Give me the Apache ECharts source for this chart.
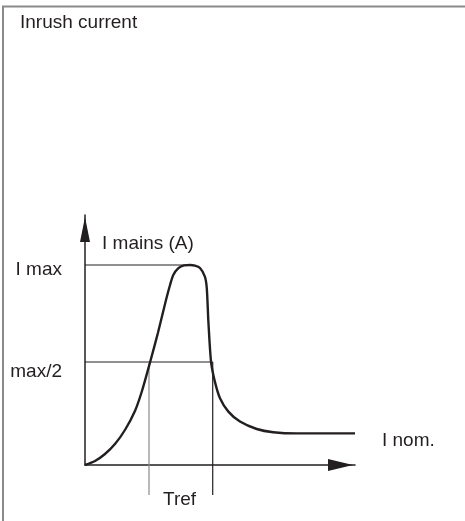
<!DOCTYPE html>
<html>
<head>
<meta charset="utf-8">
<script src="https://cdn.jsdelivr.net/npm/echarts@6/dist/echarts.min.js"></script>
<style>
html,body{margin:0;padding:0;background:#fff;}
#chart{width:465px;height:521px;}
</style>
</head>
<body>
<div id="chart"></div>
<script>
// ---- data (time in arbitrary units 0..100, current with I max = 100) ----
var titleText = 'Inrush current';
var yAxisName = 'I mains (A)';
var timeValues    = [0, 3.7, 7.4, 11.1, 14.8, 18.5, 21.1, 24.1, 27.0, 30.0, 31.5, 32.7, 34.6, 36.7, 38.9, 40.7, 42.6, 44.4, 45.1, 45.7, 46.7, 48.1, 50.0, 53.1, 57.4, 63.6, 69.7, 78.4, 100];
var currentValues = [0, 2,   5.5,  10.5, 17.5, 27,   37,   51.4, 66,   82.5, 90,   95,   98.4, 99.8, 100,  99.7, 98.5, 94.2, 88.5, 71.7, 51.4, 41.7, 33.4, 26.7, 21.7, 18,   16.4, 15.8, 15.8];
var levelValues = [100, 51.5];            // I max, max/2
var levelLabels = ['I max', 'max/2'];
var levelEnds   = [38.9, 47.3];           // where each level line stops on the time axis
var trefTimes   = [23.7, 47.3];           // the two reference-time verticals
var trefBottom  = -15;                    // verticals run below the time axis
var trefLabel   = 'Tref';
var nominalLabel = 'I nom.';
var xMax = 100, yMax = 125;

var ink = '#231f20';
var fontFam = '"Liberation Sans", Arial, Helvetica, sans-serif';

var curveData = timeValues.map(function (t, i) { return [t, currentValues[i]]; });
var last = curveData.length - 1;
curveData[last] = {
  value: curveData[last],
  label: { show: true, position: 'right', distance: 27, offset: [0, 7], formatter: nominalLabel,
           color: ink, fontSize: 19, fontFamily: fontFam }
};

var labelOffsets = [[0, 5], [0, 10]];
var series = [{
  type: 'line', name: 'inrush', data: curveData, smooth: 0.25,
  symbol: 'circle', symbolSize: 0, showAllSymbol: true,
  lineStyle: { color: ink, width: 2.4 }, itemStyle: { color: ink }, z: 5
}];
levelValues.forEach(function (v, i) {
  series.push({
    type: 'line', data: [
      { value: [0, v], label: { show: true, position: 'left', distance: 23, offset: labelOffsets[i],
        formatter: levelLabels[i], color: ink, fontSize: 19, fontFamily: fontFam } },
      [levelEnds[i], v]
    ],
    symbol: 'circle', symbolSize: 0, lineStyle: { color: ink, width: 1 }, itemStyle: { color: ink }, z: 3
  });
});
var trefColors = ['#8a8a8a', ink];
trefTimes.forEach(function (t, i) {
  var bottomPoint = [t, trefBottom];
  if (i === 0) {
    bottomPoint = { value: bottomPoint, label: { show: true, position: 'right', distance: 14, offset: [0, 5],
      formatter: trefLabel, color: ink, fontSize: 19, fontFamily: fontFam } };
  }
  series.push({
    type: 'line', clip: false, data: [[t, levelValues[1]], bottomPoint],
    symbol: 'circle', symbolSize: 0, lineStyle: { color: trefColors[i], width: 1.2 },
    itemStyle: { color: trefColors[i] }, z: 3
  });
});

var chart = echarts.init(document.getElementById('chart'), null, { renderer: 'canvas' });
chart.setOption({
  animation: false,
  backgroundColor: '#fff',
  title: { text: titleText, left: 15, top: 8,
           textStyle: { color: ink, fontSize: 19, fontWeight: 'normal', fontFamily: fontFam } },
  graphic: [{ type: 'rect', shape: { x: 3, y: 6.5, width: 520, height: 560 }, silent: true,
              style: { fill: 'none', stroke: '#8a8a8a', lineWidth: 2 } }],
  grid: { left: 85, right: 110, top: 215, bottom: 56 },
  xAxis: {
    type: 'value', min: 0, max: xMax,
    axisLine: { show: true, onZero: true, symbol: ['none', 'triangle'], symbolSize: [12, 25], symbolOffset: [0, -14.5],
                lineStyle: { color: ink, width: 1.5 } },
    axisTick: { show: false }, axisLabel: { show: false }, splitLine: { show: false }
  },
  yAxis: {
    type: 'value', min: 0, max: yMax,
    name: yAxisName, nameLocation: 'end', nameGap: -29,
    nameTextStyle: { color: ink, fontSize: 19, fontFamily: fontFam, align: 'left', verticalAlign: 'middle', padding: [0, 0, 0, 17] },
    axisLine: { show: true, symbol: ['none', 'triangle'], symbolSize: [10, 25], symbolOffset: [0, -14.5],
                lineStyle: { color: ink, width: 1.5 } },
    axisTick: { show: false }, axisLabel: { show: false }, splitLine: { show: false }
  },
  series: series
});
</script>
</body>
</html>
